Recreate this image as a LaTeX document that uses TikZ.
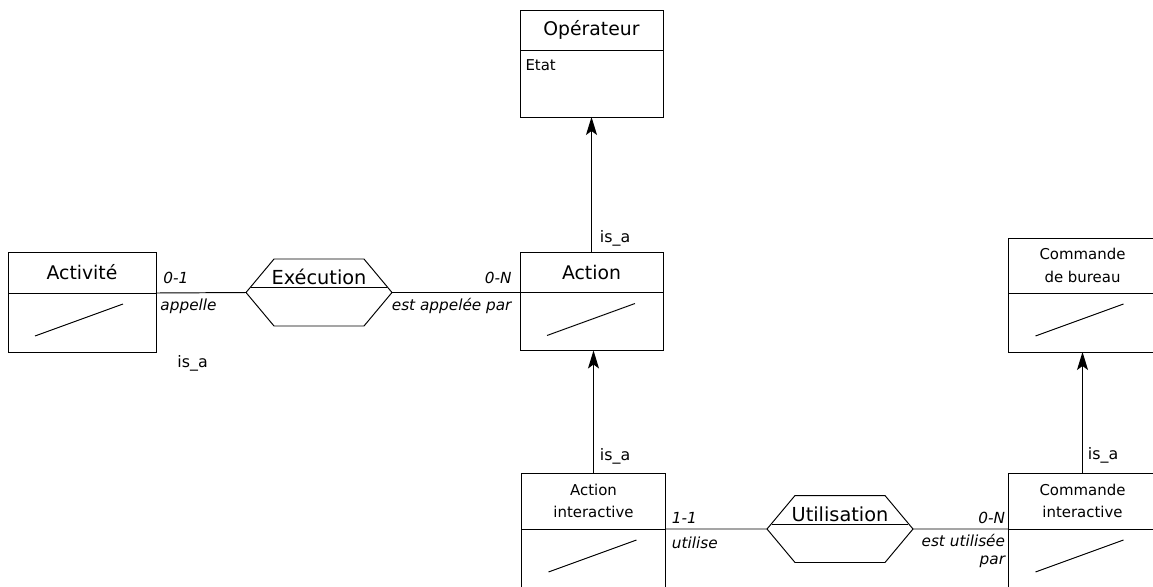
\documentclass[tikz,border=0pt]{standalone}
\usepackage{fontspec}
\setmainfont{DejaVu Sans}
\usetikzlibrary{positioning,arrows.meta}

\tikzstyle{entite} = [
    rectangle,
    draw,
    text centered,
    align = center,
    inner sep = 0pt,
    outer sep = 0pt,
    minimum width = 2.88cm,
    minimum height = 0.8cm,
    font = \fontsize{10.7}{13}\selectfont
]
\tikzstyle{entiteDouble} = [
    entite,
    minimum height = 1.12cm,
    font = \fontsize{8.5}{13}\selectfont
]
\tikzstyle{corps} = [
    rectangle,
    draw,
    inner sep = 0pt,
    outer sep = 0pt,
    minimum width = 2.88cm,
    minimum height = 1.18cm
]
\tikzstyle{corpsBarre} = [
    corps,
    path picture = {\draw ([shift={(0.54cm,-0.86cm)}]path picture bounding box.north west)
        -- ([shift={(2.3cm,-0.22cm)}]path picture bounding box.north west);}
]
\tikzstyle{relation} = [
    rectangle,
    inner sep = 0pt,
    outer sep = 0pt,
    minimum width = 2.92cm,
    text height = 0.51cm,
    text depth = 0.83cm,
    font = \fontsize{11}{13}\selectfont
]
\tikzstyle{card} = [
    inner sep = 0pt,
    font = \fontsize{8.7}{10.2}\selectfont\itshape
]
\tikzstyle{isa} = [
    inner sep = 0pt,
    font = \fontsize{9}{11}\selectfont
]
\tikzstyle{herite} = [
    -{Stealth[length = 0.36cm, width = 0.22cm, inset = 0.08cm]}
]

\newcommand{\hexagone}[1]{%
    \draw (#1.west) -- ([xshift=0.56cm]#1.north west) -- ([xshift=-0.56cm]#1.north east)
        -- (#1.east) -- ([xshift=-0.56cm]#1.south east) -- ([xshift=0.56cm]#1.south west) -- cycle;
    \draw ([shift={(0.09cm,0.1cm)}]#1.west) -- ([shift={(-0.09cm,0.1cm)}]#1.east);}

\begin{document}
\begin{tikzpicture}[x = 0.02cm, y = -0.02cm, line width = 0.55pt]

                \useasboundingbox (0,0) rectangle (1153,586);
                \clip (0,0) rectangle (1153,586);

                % Operateur
                \node [entite, minimum width = 2.86cm] (op) at (591.5,30) {Opérateur};
                \node [corps, below = 0pt of op, minimum width = 2.86cm, minimum height = 1.34cm] (opCorps) {};
                \node [isa, font = \fontsize{8.5}{10}\selectfont, anchor = base west] (etat) at ([shift={(0.1cm,-0.42cm)}]opCorps.north west) {Etat};

                % Action
                \node [entite, minimum width = 2.86cm] (act) at (591.5,272.5) {Action};
                \node [corpsBarre, below = 0pt of act, minimum width = 2.86cm, minimum height = 1.16cm] (actCorps) {};

                % Activite
                \node [entite, minimum width = 2.96cm, minimum height = 0.82cm] (actv) at (82,272.5) {Activité};
                \node [corpsBarre, below = 0pt of actv, minimum width = 2.96cm] (actvCorps) {};

                % Commande de bureau
                \node [entiteDouble, minimum width = 2.96cm, minimum height = 1.1cm] (cb) at (1082.5,265.5) {Commande\\de bureau};
                \node [corpsBarre, below = 0pt of cb, minimum width = 2.96cm] (cbCorps) {};

                % Action interactive
                \node [entiteDouble] (ai) at (593.5,501) {Action\\interactive};
                \node [corpsBarre, below = 0pt of ai, minimum height = 1.42cm] (aiCorps) {};

                % Commande interactive
                \node [entiteDouble, minimum width = 2.96cm] (ci) at (1082.5,501) {Commande\\interactive};
                \node [corpsBarre, below = 0pt of ci, minimum width = 2.96cm, minimum height = 1.42cm] (ciCorps) {};

                % relations
                \node [relation] (exe) at (319,292.5) {Exécution};
                \hexagone{exe}
                \node [relation] (uti) at (840,529) {Utilisation};
                \hexagone{uti}

                \draw (actv.south east) -- (exe.west);
                \draw (exe.east) -- (act.south west);
                \draw (ai.south east) -- (uti.west);
                \draw (uti.east) -- (ci.south west);

                \node [card, anchor = base west] (c01) at ([shift={(0.14cm,0.2cm)}]actv.south east) {0-1};
                \node [card, anchor = base west] (appelle) at ([shift={(0.08cm,-0.34cm)}]actv.south east) {appelle};
                \node [card, anchor = base east] (c0N) at ([shift={(-0.16cm,0.19cm)}]act.south west) {0-N};
                \node [card, anchor = base east] (appelee) at ([shift={(-0.16cm,-0.35cm)}]act.south west) {est appelée par};
                \node [card, anchor = base west] (c11) at ([shift={(0.12cm,0.12cm)}]ai.south east) {1-1};
                \node [card, anchor = base west] (utilise) at ([shift={(0.12cm,-0.38cm)}]ai.south east) {utilise};
                \node [card, anchor = base east] (c0Nb) at ([shift={(-0.06cm,0.12cm)}]ci.south west) {0-N};
                \node [card, anchor = base east] (utilisee) at ([shift={(-0.06cm,-0.34cm)}]ci.south west) {est utilisée};
                \node [card, anchor = base east] (par) at ([shift={(-0.06cm,-0.7cm)}]ci.south west) {par};

                % is_a
                \draw [herite] (act.north) -- (opCorps.south);
                \draw [herite] (ai.north) -- (ai.north |- actCorps.south);
                \draw [herite] (ci.north) -- (ci.north |- cbCorps.south);

                \node [isa, anchor = base west] (isaAct) at ([shift={(0.16cm,0.21cm)}]act.north) {is\_a};
                \node [isa, anchor = base west] (isaAi) at ([shift={(0.12cm,0.26cm)}]ai.north) {is\_a};
                \node [isa, anchor = base west] (isaCi) at ([shift={(0.1cm,0.28cm)}]ci.north) {is\_a};
                \node [isa, anchor = base west] (isaActv) at ([shift={(0.42cm,-0.32cm)}]actvCorps.south east) {is\_a};

\end{tikzpicture}
\end{document}
